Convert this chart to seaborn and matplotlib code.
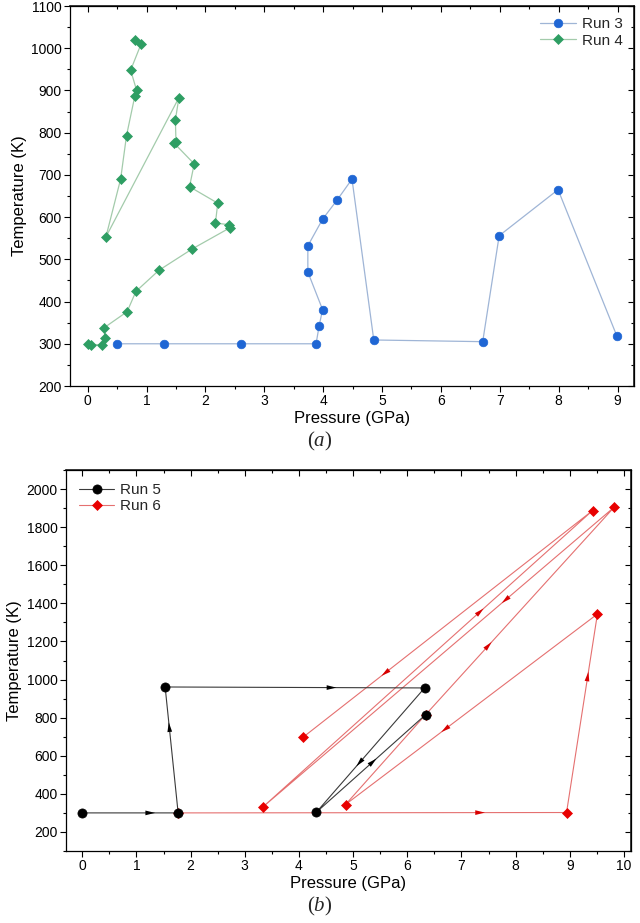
import matplotlib
matplotlib.use("Agg")
import matplotlib.pyplot as plt
import seaborn as sns
from matplotlib.ticker import MultipleLocator, NullFormatter

# ---------------- data ----------------
run3_p = [0.50, 1.30, 2.60, 3.88, 3.93, 3.99, 3.74, 3.74, 3.99, 4.24, 4.49, 4.86, 6.71, 6.99, 7.99, 8.99]
run3_t = [300, 300, 300, 300, 341, 381, 470, 532, 595, 641, 690, 309, 305, 556, 665, 318]

run4_p = [0.00, 0.05, 0.24, 0.30, 0.27, 0.67, 0.82, 1.21, 1.78, 2.42, 2.40, 2.17, 2.21, 1.73,
          1.81, 1.47, 1.50, 1.49, 1.55, 0.31, 0.56, 0.66, 0.80, 0.83, 0.73, 0.91, 0.80]
run4_t = [300, 298, 298, 313, 337, 376, 424, 474, 525, 575, 582, 586, 633, 672,
          726, 775, 779, 830, 883, 553, 690, 793, 886, 901, 948, 1011, 1019]

run5_p = [0.00, 1.77, 1.53, 6.32, 4.32, 6.34]
run5_t = [300, 300, 961, 956, 303, 816]
run5_arrow_frac = [0.76, 0.72, 0.66, 0.63, 0.55]

run6_p = [1.77, 8.94, 9.51, 4.86, 6.34, 9.82, 3.33, 9.42, 4.08]
run6_t = [300, 302, 1344, 344, 816, 1905, 330, 1887, 698]
run6_arrow_frac = [0.79, 0.71, 0.62, None, 0.35, 0.32, 0.67, 0.73]

labels_a = ["Run 3", "Run 4"]
labels_b = ["Run 5", "Run 6"]

# ---------------- style ----------------
sns.set_theme(style="ticks")
plt.rcParams["font.family"] = ["Liberation Sans", "DejaVu Sans"]
plt.rcParams["mathtext.fontset"] = "custom"
plt.rcParams["mathtext.it"] = "Liberation Serif:italic"
plt.rcParams["mathtext.rm"] = "Liberation Serif"

fig = plt.figure(figsize=(6.4, 9.23), dpi=100)
W, H = 640, 923
axa = fig.add_axes([70 / W, 1 - 386 / H, (634 - 70) / W, (386 - 6) / H])
axb = fig.add_axes([66 / W, 1 - 851 / H, (631 - 66) / W, (851 - 470) / H])

# panel (a)
sns.lineplot(x=run3_p, y=run3_t, sort=False, estimator=None, ax=axa,
             color="#9fb5d6", linewidth=0.9, marker="o", markersize=6.2,
             markerfacecolor="#1f66d4", markeredgecolor="#1f66d4",
             markeredgewidth=0.5, label=labels_a[0], zorder=3)
sns.lineplot(x=run4_p, y=run4_t, sort=False, estimator=None, ax=axa,
             color="#a3cbab", linewidth=0.9, marker="D", markersize=4.6,
             markerfacecolor="#2e9e63", markeredgecolor="#2e9e63",
             markeredgewidth=0.5, label=labels_a[1], zorder=3)

# panel (b)
sns.lineplot(x=run6_p, y=run6_t, sort=False, estimator=None, ax=axb,
             color="#e57070", linewidth=0.8, marker="D", markersize=4.6,
             markerfacecolor="#e80000", markeredgecolor="#e80000",
             markeredgewidth=0.5, label=labels_b[1], zorder=2)
sns.lineplot(x=run5_p, y=run5_t, sort=False, estimator=None, ax=axb,
             color="#3a3a3a", linewidth=0.8, marker="o", markersize=6.6,
             markerfacecolor="black", markeredgecolor="black",
             markeredgewidth=0.5, label=labels_b[0], zorder=3)


def add_arrows(ax, xs, ys, fracs, color, z):
    for i, f in enumerate(fracs):
        if f is None:
            continue
        x0, y0, x1, y1 = xs[i], ys[i], xs[i + 1], ys[i + 1]
        tip = (x0 + f * (x1 - x0), y0 + f * (y1 - y0))
        ax.annotate("", xy=tip, xytext=(x0, y0),
                    arrowprops=dict(arrowstyle="-|>,head_length=7,head_width=1.7",
                                    mutation_scale=1, lw=0, color=color,
                                    shrinkA=0, shrinkB=0),
                    zorder=z)


add_arrows(axb, run6_p, run6_t, run6_arrow_frac, "#d80000", 4)
add_arrows(axb, run5_p, run5_t, run5_arrow_frac, "black", 5)


def style_axes(ax, xlim, ylim, xmaj, xmin, ymaj, ymin):
    ax.set_xlim(*xlim)
    ax.set_ylim(*ylim)
    ax.xaxis.set_major_locator(MultipleLocator(xmaj))
    ax.xaxis.set_minor_locator(MultipleLocator(xmin))
    ax.yaxis.set_major_locator(MultipleLocator(ymaj))
    ax.yaxis.set_minor_locator(MultipleLocator(ymin))
    ax.tick_params(which="both", direction="out", top=False, right=False,
                   colors="black", labelsize=10, pad=2)
    ax.tick_params(which="major", length=4, width=0.8)
    ax.tick_params(which="minor", length=2.5, width=0.8)
    for s in ax.spines.values():
        s.set_visible(True)
        s.set_color("black")
        s.set_linewidth(0.9)
    ax.grid(False)
    sx = ax.secondary_xaxis("top")
    sx.xaxis.set_major_locator(MultipleLocator(xmaj))
    sx.xaxis.set_minor_locator(MultipleLocator(xmin))
    sx.xaxis.set_major_formatter(NullFormatter())
    sx.tick_params(which="both", direction="in", colors="black", width=0.8)
    sx.tick_params(which="major", length=4)
    sx.tick_params(which="minor", length=2.5)
    sy = ax.secondary_yaxis("right")
    sy.yaxis.set_major_locator(MultipleLocator(ymaj))
    sy.yaxis.set_minor_locator(MultipleLocator(ymin))
    sy.yaxis.set_major_formatter(NullFormatter())
    sy.tick_params(which="both", direction="in", colors="black", width=0.8)
    sy.tick_params(which="major", length=4)
    sy.tick_params(which="minor", length=2.5)
    ax.set_xlabel("Pressure (GPa)", fontsize=12, labelpad=2, color="black")
    ax.set_ylabel("Temperature (K)", fontsize=12, labelpad=3, color="black")


style_axes(axa, (-0.3, 9.28), (200, 1100), 1, 0.5, 100, 50)
style_axes(axb, (-0.3, 10.13), (100, 2100), 1, 0.5, 200, 100)

axa.legend(loc="upper right", frameon=False, fontsize=11, handlelength=2.3,
           borderaxespad=0.35, labelspacing=0.15, handletextpad=0.4, numpoints=1)
hb, lb = axb.get_legend_handles_labels()
order = [lb.index(labels_b[0]), lb.index(labels_b[1])]
axb.legend([hb[i] for i in order], [lb[i] for i in order], loc="upper left",
           frameon=False, fontsize=11, handlelength=2.3, borderaxespad=0.45,
           labelspacing=0.15, handletextpad=0.4, numpoints=1)

fig.text(0.5, 1 - 441 / H, r"($\mathit{a}$)", ha="center", va="center",
         family="Liberation Serif", fontsize=15)
fig.text(0.5, 1 - 906 / H, r"($\mathit{b}$)", ha="center", va="center",
         family="Liberation Serif", fontsize=15)

fig.savefig("out.png", dpi=100, facecolor="white")
